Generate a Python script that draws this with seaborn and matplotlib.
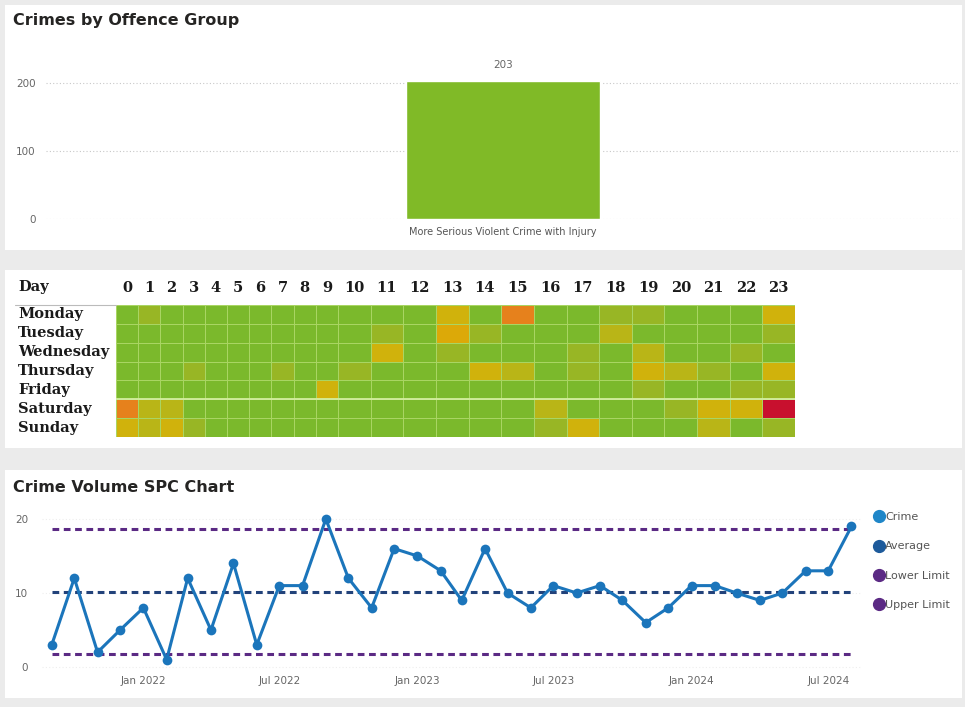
"""
Crime dashboard: offence group bar, day/hour heatmap, SPC chart.
"""

import numpy as np
import pandas as pd
import matplotlib

matplotlib.use("Agg")
import matplotlib.pyplot as plt
import matplotlib.dates as mdates
from matplotlib.colors import LinearSegmentedColormap
from matplotlib.lines import Line2D
from matplotlib.patches import Rectangle
import seaborn as sns

W, H = 965, 707

# ---- data ----
offence_groups = ["More Serious Violent Crime with Injury"]
offence_counts = [203]

days = ["Monday", "Tuesday", "Wednesday", "Thursday", "Friday", "Saturday", "Sunday"]
hours = list(range(24))
#            0  1  2  3  4  5  6  7  8  9 10 11 12 13 14 15 16 17 18 19 20 21 22 23
heat = [
    [1, 2, 1, 1, 1, 1, 1, 1, 1, 1, 1, 1, 1, 4, 1, 6, 1, 1, 2, 2, 1, 1, 1, 4],  # Mon
    [1, 1, 1, 1, 1, 1, 1, 1, 1, 1, 1, 2, 1, 5, 2, 1, 1, 1, 3, 1, 1, 1, 1, 2],  # Tue
    [1, 1, 1, 1, 1, 1, 1, 1, 1, 1, 1, 4, 1, 2, 1, 1, 1, 2, 1, 3, 1, 1, 2, 1],  # Wed
    [1, 1, 1, 2, 1, 1, 1, 2, 1, 1, 2, 1, 1, 1, 4, 3, 1, 2, 1, 4, 3, 2, 1, 4],  # Thu
    [1, 1, 1, 1, 1, 1, 1, 1, 1, 4, 1, 1, 1, 1, 1, 1, 1, 1, 1, 2, 1, 1, 2, 2],  # Fri
    [6, 3, 3, 1, 1, 1, 1, 1, 1, 1, 1, 1, 1, 1, 1, 1, 3, 1, 1, 1, 2, 4, 4, 9],  # Sat
    [4, 3, 4, 2, 1, 1, 1, 1, 1, 1, 1, 1, 1, 1, 1, 1, 2, 4, 1, 1, 1, 3, 1, 2],  # Sun
]

months = pd.date_range("2021-09-01", "2024-08-01", freq="MS")
crime_counts = [3, 12, 2, 5, 8, 1, 12, 5, 14, 3, 11, 11,
                20, 12, 8, 16, 15, 13, 9, 16, 10, 8, 11, 10,
                11, 9, 6, 8, 11, 11, 10, 9, 10, 13, 13, 19]
avg_level = 10.1
lower_limit = 1.7
upper_limit = 18.6
legend_labels = ["Crime", "Average", "Lower Limit", "Upper Limit"]

# ---- colours ----
BAR_GREEN = "#80BA27"
CRIME_BLUE = "#1B75BB"
AVG_NAVY = "#22427A"
LIMIT_PURPLE = "#5B2A84"
TICK_GREY = "#666666"
TITLE_COL = "#252423"
heat_cmap = LinearSegmentedColormap.from_list("heat", [
    (0.0, "#7BB92C"), (0.125, "#98B625"), (0.25, "#B9B517"),
    (0.375, "#D0B20C"), (0.5, "#DCAA08"), (0.625, "#E6821C"), (1.0, "#C8102E"),
])


def rect(x0, y0, x1, y1):
    """Pixel box (top-left origin) -> figure fraction [l, b, w, h]."""
    return [x0 / W, 1 - y1 / H, (x1 - x0) / W, (y1 - y0) / H]


sns.set_theme(style="white")
plt.rcParams["font.family"] = ["DejaVu Sans"]

fig = plt.figure(figsize=(W / 100, H / 100), dpi=100, facecolor="#EBEBEB")

# white cards
for y0, y1 in [(5, 250), (270, 448), (470, 698)]:
    fig.add_artist(Rectangle((5 / W, 1 - y1 / H), 957 / W, (y1 - y0) / H,
                             transform=fig.transFigure, facecolor="white",
                             edgecolor="none", zorder=0))

# ---- panel 1: bar chart ----
fig.text(13 / W, 1 - 20 / H, "Crimes by Offence Group", fontsize=11.5,
         fontweight="bold", color=TITLE_COL, va="center", ha="left")
ax1 = fig.add_axes(rect(46, 62.6, 960, 219))
sns.barplot(x=offence_groups, y=offence_counts, color=BAR_GREEN, width=1.0,
            saturation=1, ax=ax1)
ax1.set_xlim(-2.355, 2.355)
ax1.set_ylim(0, 230)
ax1.set_yticks([0, 100, 200])
ax1.set_xlabel(""); ax1.set_ylabel("")
ax1.set_axisbelow(True)
ax1.yaxis.grid(True, linestyle=(0, (1, 2)), color="#C8C8C8", lw=0.8)
ax1.tick_params(axis="y", length=0, pad=7.5, labelsize=7.5, labelcolor=TICK_GREY)
ax1.tick_params(axis="x", length=0, pad=6, labelsize=7, labelcolor="#555555")
ax1.bar_label(ax1.containers[0], padding=8, fontsize=7.5, color=TICK_GREY)
sns.despine(ax=ax1, left=True, bottom=True)
ax1.set_facecolor("none")

# ---- panel 2: day x hour heatmap ----
heat_df = pd.DataFrame(heat, index=days, columns=hours)
serif = dict(family="DejaVu Serif", weight="bold", size=10.5, color="#1A1A1A")
axA = fig.add_axes(rect(116, 305, 338, 437))
axB = fig.add_axes(rect(338, 305, 795, 437))
for ax, block in [(axA, heat_df.iloc[:, :10]), (axB, heat_df.iloc[:, 10:])]:
    sns.heatmap(block, ax=ax, cmap=heat_cmap, vmin=1, vmax=9, cbar=False,
                linewidths=0.6, linecolor="#A9D563")
    ax.axhline(5, color="#D4EEA0", lw=1.3)
    ax.xaxis.tick_top()
    ax.set_xticklabels([str(c) for c in block.columns], rotation=0, **serif)
    ax.tick_params(axis="x", length=0, pad=7)
    ax.set_xlabel(""); ax.set_ylabel("")
axA.set_yticklabels(days, rotation=0, ha="left", va="center", **serif)
axA.tick_params(axis="y", length=0, pad=70.5)
axB.set_yticks([])
fig.text(18 / W, 1 - 287 / H, "Day", ha="left", va="center", **serif)
fig.add_artist(Line2D([15 / W, 116 / W], [1 - 305 / H] * 2, color="#BBBBBB", lw=0.8))

# ---- panel 3: SPC chart ----
fig.text(13 / W, 1 - 488 / H, "Crime Volume SPC Chart", fontsize=11.5,
         fontweight="bold", color=TITLE_COL, va="center", ha="left")
ax3 = fig.add_axes(rect(42, 511.6, 862, 672.2))
spc = pd.DataFrame({"month": months, "crimes": crime_counts})
dash = (0, (2.2, 1.5))
ax3.plot([months[0], months[-1]], [upper_limit] * 2, color=LIMIT_PURPLE, lw=2.2, ls=dash, zorder=2)
ax3.plot([months[0], months[-1]], [lower_limit] * 2, color=LIMIT_PURPLE, lw=2.2, ls=dash, zorder=2)
ax3.plot([months[0], months[-1]], [avg_level] * 2, color=AVG_NAVY, lw=2.2, ls=dash, zorder=2)
sns.lineplot(data=spc, x="month", y="crimes", ax=ax3, color=CRIME_BLUE, lw=2.2,
             marker="o", markersize=7, markeredgewidth=0, zorder=3)
ax3.set_xlim(pd.Timestamp("2021-08-19"), pd.Timestamp("2024-08-15"))
ax3.set_ylim(-0.7, 21)
ax3.set_yticks([0, 10, 20])
ax3.xaxis.set_major_locator(mdates.MonthLocator(bymonth=[1, 7]))
ax3.xaxis.set_major_formatter(mdates.DateFormatter("%b %Y"))
ax3.set_xlabel(""); ax3.set_ylabel("")
ax3.yaxis.grid(True, linestyle=(0, (1, 2)), color="#EEEEEE", lw=0.8)
ax3.tick_params(axis="y", length=0, pad=10, labelsize=7.5, labelcolor=TICK_GREY)
ax3.tick_params(axis="x", length=0, pad=2.5, labelsize=7.5, labelcolor=TICK_GREY)
sns.despine(ax=ax3, left=True, bottom=True)
ax3.set_facecolor("none")

legend_colors = ["#1F86C8", "#1D5A9B", LIMIT_PURPLE, LIMIT_PURPLE]
handles = [Line2D([], [], marker="o", ls="", color=c, markersize=8.5) for c in legend_colors]
fig.legend(handles, legend_labels, loc="upper left", bbox_to_anchor=(875 / W, 1 - 512 / H),
           frameon=False, fontsize=8, labelcolor="#555555", handlelength=0.8,
           handletextpad=0.1, labelspacing=1.75, borderaxespad=0, borderpad=0)

fig.savefig("out.png", dpi=100, facecolor=fig.get_facecolor())
plt.close(fig)
